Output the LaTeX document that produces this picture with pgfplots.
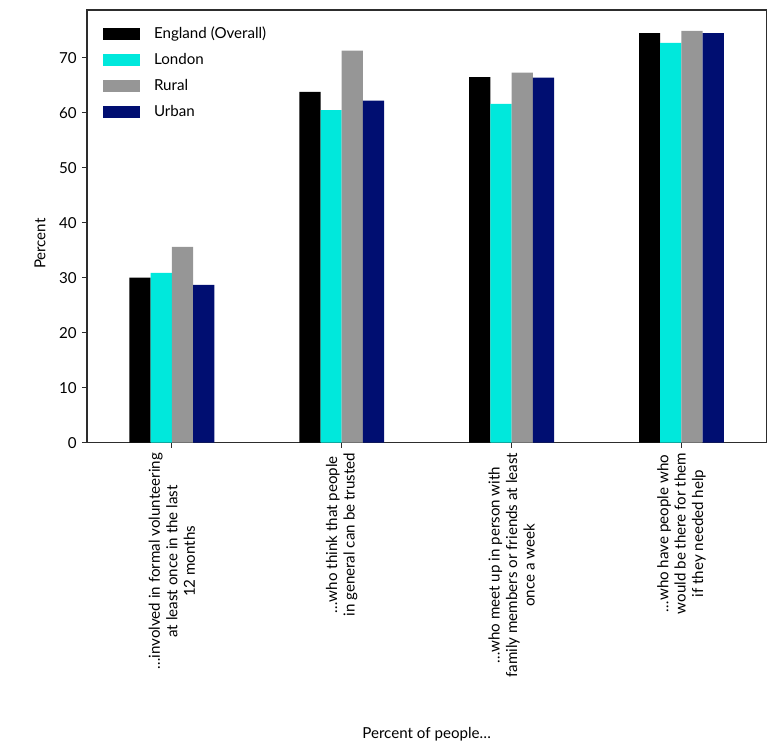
\documentclass[border=0pt]{standalone}
\usepackage{pgfplots}
\pgfplotsset{compat=1.18}
\usepackage{fontspec}
\setmainfont{Lato}
\definecolor{cLondon}{RGB}{0,232,220}
\definecolor{cRural}{RGB}{150,150,150}
\definecolor{cUrban}{RGB}{0,14,113}
\definecolor{axisgray}{RGB}{45,45,45}
\newcommand{\fs}{\fontsize{15.2}{17.5}\selectfont}
\begin{document}
\fs
\begin{tikzpicture}
\begin{axis}[
 name=ax,
 width=680bp, height=433bp, scale only axis,
 ybar=0pt, bar width=0.125,
 xmin=-0.5, xmax=3.5, ymin=0, ymax=78.7,
 xtick={0,1,2,3},
 xticklabels={{\ldots involved in formal volunteering\\at least once in the last\\12 months},
   {\ldots who think that people\\in general can be trusted},
   {\ldots who meet up in person with\\family members or friends at least\\once a week},
   {\ldots who have people who\\would be there for them\\if they needed help}},
 xticklabel style={rotate=90, anchor=east, align=center, font=\fs},
 yticklabel style={font=\fs},
 /pgf/number format/assume math mode=true,
 ytick={0,10,...,70},
 tick align=outside, tick pos=left,
 major tick length=5bp,
 tick style={axisgray, line width=1bp},
 axis line style={axisgray, line width=1.2bp},
 ylabel={Percent},
 ylabel style={at={(axis description cs:-0.069,0.46)}, anchor=center, font=\fs},
 xlabel={Percent of people\ldots},
 xlabel style={at={(axis description cs:0.50,-0.674)}, anchor=center, font=\fs},
 legend style={at={(axis description cs:0,1)}, anchor=north west, xshift=13bp, yshift=-13bp,
   draw=none, fill=none, row sep=8.5bp, font=\fs},
 legend cell align=left,
 legend image code/.code={\fill[#1] (0bp,-6bp) rectangle (37bp,6bp); \path[draw=none,fill=none] (0bp,0bp) -- (49bp,0bp);},
 every axis plot/.append style={draw=none},
]
\addplot[fill=black] coordinates {(0,30.0) (1,63.8) (2,66.5) (3,74.5)};
\addplot[fill=cLondon] coordinates {(0,30.9) (1,60.5) (2,61.6) (3,72.7)};
\addplot[fill=cRural] coordinates {(0,35.6) (1,71.3) (2,67.3) (3,74.9)};
\addplot[fill=cUrban] coordinates {(0,28.7) (1,62.2) (2,66.4) (3,74.5)};
\legend{England (Overall), London, Rural, Urban}
\end{axis}
\path ([xshift=-87bp,yshift=-305bp]ax.south west) rectangle ([yshift=10bp]ax.north east);
\end{tikzpicture}
\end{document}
